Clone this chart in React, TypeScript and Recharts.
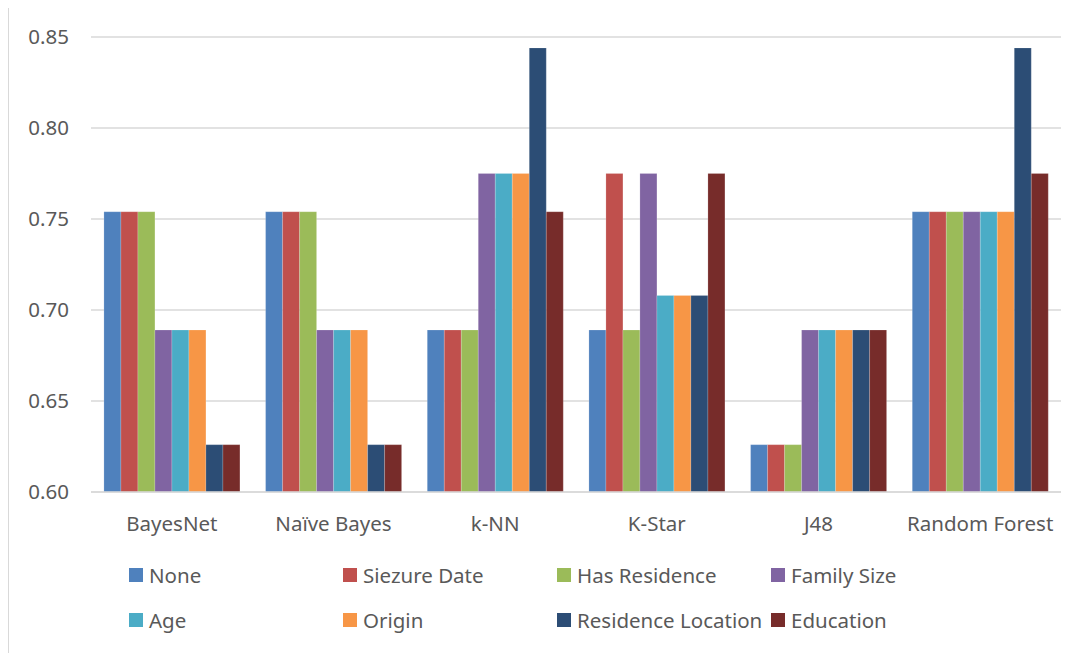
import React from 'react';
import { BarChart, Bar, XAxis, YAxis, CartesianGrid, Legend } from 'recharts';

// Classifier accuracy per removed attribute
const classifiers = ['BayesNet', 'Naïve Bayes', 'k-NN', 'K-Star', 'J48', 'Random Forest'];

const none = [0.754, 0.754, 0.689, 0.689, 0.626, 0.754];
const seizureDate = [0.754, 0.754, 0.689, 0.775, 0.626, 0.754];
const hasResidence = [0.754, 0.754, 0.689, 0.689, 0.626, 0.754];
const familySize = [0.689, 0.689, 0.775, 0.775, 0.689, 0.754];
const age = [0.689, 0.689, 0.775, 0.708, 0.689, 0.754];
const origin = [0.689, 0.689, 0.775, 0.708, 0.689, 0.754];
const residenceLocation = [0.626, 0.626, 0.844, 0.708, 0.689, 0.844];
const education = [0.626, 0.626, 0.754, 0.775, 0.689, 0.775];

const yTicks = [0.6, 0.65, 0.7, 0.75, 0.8, 0.85];

const series = [
  { key: 'none', name: 'None', color: '#4f81bd', values: none },
  { key: 'seizure', name: 'Siezure Date', color: '#c0504d', values: seizureDate },
  { key: 'hasRes', name: 'Has Residence', color: '#9bbb59', values: hasResidence },
  { key: 'family', name: 'Family Size', color: '#8064a2', values: familySize },
  { key: 'age', name: 'Age', color: '#4bacc6', values: age },
  { key: 'origin', name: 'Origin', color: '#f79646', values: origin },
  { key: 'resLoc', name: 'Residence Location', color: '#2c4d75', values: residenceLocation },
  { key: 'edu', name: 'Education', color: '#772c2a', values: education },
];

const data = classifiers.map((name, i) => {
  const row: Record<string, string | number> = { name };
  series.forEach((s) => {
    row[s.key] = s.values[i];
  });
  return row;
});

const FONT = '"Noto Sans", sans-serif';
const TEXT = '#595959';
const FONT_SIZE = 20.5;

function LegendGrid() {
  return (
    <div
      style={{
        width: 1077,
        height: 100,
        paddingTop: 10,
        boxSizing: 'border-box',
        display: 'grid',
        gridTemplateColumns: 'repeat(4, 214px)',
        gridAutoRows: '45px',
        paddingLeft: 120,
        fontFamily: FONT,
        fontSize: FONT_SIZE,
        color: TEXT,
      }}
    >
      {series.map((s) => (
        <div key={s.key} style={{ display: 'flex', alignItems: 'center', whiteSpace: 'nowrap' }}>
          <span style={{ width: 14, height: 14, background: s.color, marginRight: 6, display: 'inline-block' }} />
          <span>{s.name}</span>
        </div>
      ))}
    </div>
  );
}

export default function App() {
  return (
    <div
      style={{
        width: 1078,
        height: 646,
        marginTop: -1,
        borderTop: '1px solid #d9d9d9',
        borderLeft: '1px solid #d9d9d9',
        background: '#fff',
      }}
    >
      <BarChart
        width={1077}
        height={645}
        data={data}
        margin={{ top: 29, right: 25, left: 0, bottom: 11 }}
        barCategoryGap="8%"
        barGap={0}
      >
        <CartesianGrid vertical={false} stroke="#d9d9d9" strokeWidth={1.5} />
        <XAxis
          dataKey="name"
          axisLine={{ stroke: '#d9d9d9', strokeWidth: 1.5 }}
          tickLine={false}
          tickSize={0}
          tickMargin={24}
          height={50}
          interval={0}
          tick={{ fill: TEXT, fontSize: FONT_SIZE, fontFamily: FONT }}
        />
        <YAxis
          domain={[0.6, 0.85]}
          ticks={yTicks}
          allowDataOverflow
          width={82}
          axisLine={false}
          tickLine={false}
          tickSize={0}
          tickMargin={22}
          tickFormatter={(v: number) => v.toFixed(2)}
          tick={{ fill: TEXT, fontSize: FONT_SIZE, fontFamily: FONT }}
        />
        <Legend verticalAlign="bottom" wrapperStyle={{ left: 0 }} content={() => <LegendGrid />} />
        {series.map((s) => (
          <Bar
            key={s.key}
            dataKey={s.key}
            name={s.name}
            fill={s.color}
            stroke="#ffffff"
            strokeOpacity={0.35}
            strokeWidth={0.5}
            isAnimationActive={false}
          />
        ))}
      </BarChart>
    </div>
  );
}
